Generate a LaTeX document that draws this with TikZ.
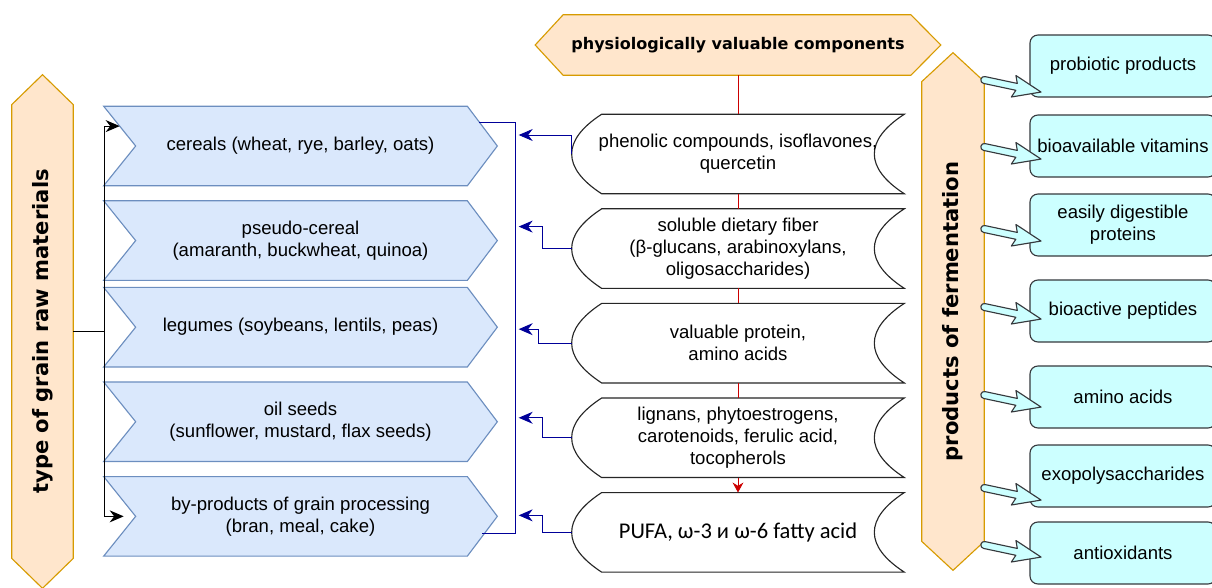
\documentclass[tikz,border=0pt]{standalone}
\usepackage{fontspec}
\setmainfont{Liberation Sans}
\newfontfamily\titlefont{DejaVu Sans}
\newfontfamily\pufafont{Carlito}
\usetikzlibrary{arrows.meta,positioning,calc,backgrounds}
\definecolor{OrangeFill}{HTML}{FFE6CC}
\definecolor{OrangeLine}{HTML}{D79B00}
\definecolor{BlueFill}{HTML}{DAE8FC}
\definecolor{BlueLine}{HTML}{6C8EBF}
\definecolor{CyanFill}{HTML}{CCFFFF}
\definecolor{Dark}{HTML}{36393D}
\definecolor{Navy}{HTML}{000099}
\definecolor{Red}{HTML}{CC0000}

\begin{document}
\begin{tikzpicture}[
  x=0.025cm,y=0.025cm,
  node distance=0.375cm,
  txt/.style={font=\fontsize{13.2}{15.8}\selectfont,align=center,inner sep=0pt},
  title/.style={align=center,inner sep=0pt,font=\titlefont\bfseries\fontsize{15}{18}\selectfont},
  boxblue/.style={txt,minimum width=9.825cm,minimum height=1.975cm},
  boxwhite/.style={txt,minimum width=8.3cm,minimum height=1.975cm},
  boxcyan/.style={txt,draw=Dark,fill=CyanFill,rounded corners=0.2cm,line width=0.8pt,minimum width=4.65cm,minimum height=1.55cm},
  shapeorange/.style={draw=OrangeLine,fill=OrangeFill,line width=0.8pt},
  shapeblue/.style={draw=BlueLine,fill=BlueFill,line width=0.8pt},
  shapewhite/.style={draw=black!85,fill=white,line width=0.8pt},
  line/.style={draw=black,line width=0.7pt},
  arrow/.style={line,-{Stealth[length=0.35cm,width=0.3cm]}},
  arrownavy/.style={draw=Navy,line width=0.7pt,-{Stealth[length=0.35cm,width=0.3cm]}},
  linered/.style={draw=Red,line width=0.7pt},
  arrowblock/.style={draw=Dark,fill=CyanFill,line width=0.8pt,line join=round}
]
\useasboundingbox (0,0) rectangle (1212,-587);

% titles
\node[title,minimum width=1.525cm,minimum height=12.825cm] (raw) at (42.5,-331.5) {\rotatebox{90}{type of grain raw materials}};
\node[title,minimum width=10.125cm,minimum height=1.5cm,font=\titlefont\bfseries\fontsize{11.4}{14}\selectfont] (comp) at (738,-45) {physiologically valuable components};
\node[title,minimum width=1.55cm,minimum height=12.925cm] (ferm) at (953,-311.5) {\rotatebox{90}{products of fermentation}};

% raw materials
\node[boxblue] (cer) at (300.5,-146) {cereals (wheat, rye, barley, oats)};
\node[boxblue,below=of cer] (pse) {pseudo-cereal\\(amaranth, buckwheat, quinoa)};
\node[boxblue,below=0.175cm of pse] (leg) {legumes (soybeans, lentils, peas)};
\node[boxblue,below=of leg] (oil) {oil seeds\\(sunflower, mustard, flax seeds)};
\node[boxblue,below=of oil] (byp) {by-products of grain processing\\(bran, meal, cake)};

% valuable components
\node[boxwhite] (phen) at (738,-154) {phenolic compounds, isoflavones,\\quercetin};
\node[boxwhite,below=of phen] (fiber) {soluble dietary fiber\\(β-glucans, arabinoxylans,\\oligosaccharides)};
\node[boxwhite,below=of fiber] (prot) {valuable protein,\\amino acids};
\node[boxwhite,below=of prot] (lign) {lignans, phytoestrogens,\\carotenoids, ferulic acid,\\tocopherols};
\node[boxwhite,below=of lign,font=\pufafont\fontsize{16}{19}\selectfont] (pufa) {PUFA, ω-3 и ω-6 fatty acid};

% fermentation products
\foreach \n/\y/\t in {prob/66/probiotic products,vita/146/bioavailable vitamins,dige/225/{easily digestible\\proteins},pept/311/bioactive peptides,amin/397/amino acids,exop/476/exopolysaccharides,anti/553/antioxidants}
  \node[boxcyan] (\n) at (1123,-\y) {\t};

% outlines
\begin{scope}[on background layer]
\draw[shapeorange] (raw.north) -- ($(raw.north east)+(0,-30)$) -- ($(raw.south east)+(0,30)$) -- (raw.south) -- ($(raw.south west)+(0,30)$) -- ($(raw.north west)+(0,-30)$) -- cycle;
\draw[shapeorange] (ferm.north) -- ($(ferm.north east)+(0,-29)$) -- ($(ferm.south east)+(0,29)$) -- (ferm.south) -- ($(ferm.south west)+(0,29)$) -- ($(ferm.north west)+(0,-29)$) -- cycle;
\draw[shapeorange] (comp.west) -- ($(comp.north west)+(28,0)$) -- ($(comp.north east)+(-30,0)$) -- (comp.east) -- ($(comp.south east)+(-30,0)$) -- ($(comp.south west)+(28,0)$) -- cycle;
\foreach \n in {cer,pse,leg,oil,byp}
  \draw[shapeblue] (\n.north west) -- ($(\n.north east)+(-30,0)$) -- (\n.east) -- ($(\n.south east)+(-30,0)$) -- (\n.south west) -- ($(\n.west)+(32,0)$) -- cycle;
\foreach \n in {phen,fiber,prot,lign,pufa}
  \draw[shapewhite] ($(\n.north west)+(30,0)$) -- (\n.north east) .. controls +(-40,-26) and +(-40,26) .. (\n.south east) -- ($(\n.south west)+(30,0)$) .. controls +(-40,26) and +(-40,-26) .. ($(\n.north west)+(30,0)$) -- cycle;
\end{scope}

% connectors
\draw[line] (raw.east) -- ++(31,0) coordinate (fork);
\draw[arrow] (fork) |- ($(cer.north west)!0.5!(cer.west)+(16,0)$);
\draw[arrow] (fork) |- ($(byp.west)+(20,0)$);
\draw[draw=Navy,line width=0.7pt] ($(cer.east)+(-18,24)$) -- ++(36,0) |- ($(byp.east)+(-15,-17)$);
\foreach \n/\dx/\dy in {phen/0/19,fiber/29/22,prot/33/14,lign/29/20,pufa/29/17}
  \draw[arrownavy] (\n.west) -- ++(-\dx,0) -- ++(0,\dy) -- ($(\n.west)+(-53,\dy)$);
\draw[linered] (comp) -- (phen);
\foreach \a/\b in {phen/fiber,fiber/prot,prot/lign}
  \draw[linered] (\a) -- (\b);
\draw[linered,-{Stealth[length=0.25cm,width=0.27cm]}] (lign) -- (pufa);
\foreach \ty in {80,147,229,307,395,488,545}
  \draw[arrowblock,shift={(ferm.east |- 0,-\ty)},rotate=-12] (0,3.5) -- (33,3.5) -- (30,11) -- (58,0) -- (30,-11) -- (33,-3.5) -- (0,-3.5) arc[start angle=270,end angle=90,radius=3.5] -- cycle;
\end{tikzpicture}
\end{document}
